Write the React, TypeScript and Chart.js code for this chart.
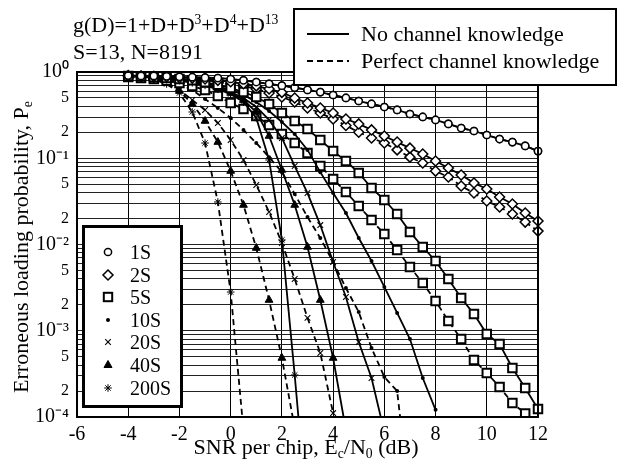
import React, { useEffect, useRef } from 'react';
import { Chart, registerables } from 'chart.js';

Chart.register(...registerables);

// ---------- SNR grids (dB) ----------
const SNR_TO_12 = [-4, -3.5, -3, -2.5, -2, -1.5, -1, -0.5, 0, 0.5, 1, 1.5, 2, 2.5, 3, 3.5, 4, 4.5, 5, 5.5, 6, 6.5, 7, 7.5, 8, 8.5, 9, 9.5, 10, 10.5, 11, 11.5, 12];
const SNR_TO_11_5 = [-4, -3.5, -3, -2.5, -2, -1.5, -1, -0.5, 0, 0.5, 1, 1.5, 2, 2.5, 3, 3.5, 4, 4.5, 5, 5.5, 6, 6.5, 7, 7.5, 8, 8.5, 9, 9.5, 10, 10.5, 11, 11.5];
const SNR_TO_8 = [-4, -3.5, -3, -2.5, -2, -1.5, -1, -0.5, 0, 0.5, 1, 1.5, 2, 2.5, 3, 3.5, 4, 4.5, 5, 5.5, 6, 6.5, 7, 7.5, 8];
const SNR_TO_7 = [-4, -3.5, -3, -2.5, -2, -1.5, -1, -0.5, 0, 0.5, 1, 1.5, 2, 2.5, 3, 3.5, 4, 4.5, 5, 5.5, 6, 6.5, 7];
const SNR_TO_6 = [-4, -3.5, -3, -2.5, -2, -1.5, -1, -0.5, 0, 0.5, 1, 1.5, 2, 2.5, 3, 3.5, 4, 4.5, 5, 5.5, 6];
const SNR_TO_4_5 = [-4, -3.5, -3, -2.5, -2, -1.5, -1, -0.5, 0, 0.5, 1, 1.5, 2, 2.5, 3, 3.5, 4, 4.5];
const SNR_TO_4 = [-4, -3.5, -3, -2.5, -2, -1.5, -1, -0.5, 0, 0.5, 1, 1.5, 2, 2.5, 3, 3.5, 4];
const SNR_TO_3 = [-4, -3.5, -3, -2.5, -2, -1.5, -1, -0.5, 0, 0.5, 1, 1.5, 2, 2.5, 3];
const SNR_TO_2_5 = [-4, -3.5, -3, -2.5, -2, -1.5, -1, -0.5, 0, 0.5, 1, 1.5, 2, 2.5];
const SNR_TO_0_5 = [-4, -3.5, -3, -2.5, -2, -1.5, -1, -0.5, 0, 0.5];

// ---------- Erroneous loading probability, no channel knowledge (solid) ----------
const PE_1S_NO = [0.91, 0.9, 0.9, 0.89, 0.88, 0.87, 0.86, 0.85, 0.83, 0.8, 0.765, 0.73, 0.695, 0.66, 0.62, 0.585, 0.541, 0.5, 0.461, 0.426, 0.393, 0.363, 0.326, 0.301, 0.278, 0.25, 0.224, 0.207, 0.186, 0.167, 0.154, 0.139, 0.121];
const PE_2S_NO = [0.91, 0.9, 0.89, 0.88, 0.86, 0.85, 0.83, 0.8, 0.77, 0.73, 0.69, 0.635, 0.58, 0.5, 0.437, 0.383, 0.335, 0.285, 0.25, 0.213, 0.181, 0.154, 0.131, 0.112, 0.093, 0.077, 0.064, 0.0516, 0.044, 0.0356, 0.0295, 0.0232, 0.0187];
const PE_5S_NO = [0.9, 0.89, 0.87, 0.85, 0.83, 0.8, 0.76, 0.71, 0.652, 0.586, 0.513, 0.426, 0.335, 0.27, 0.218, 0.163, 0.121, 0.093, 0.0675, 0.0452, 0.0328, 0.0226, 0.014, 0.00935, 0.00644, 0.00398, 0.0024, 0.00156, 0.000916, 0.000702, 0.00037, 0.000217, 0.000124];
const PE_10S_NO = [0.9, 0.89, 0.87, 0.85, 0.82, 0.78, 0.74, 0.68, 0.618, 0.541, 0.449, 0.353, 0.263, 0.191, 0.125, 0.069, 0.0395, 0.0232, 0.0119, 0.00644, 0.00322, 0.00161, 0.000802, 0.000283, 0.000121];
const PE_20S_NO = [0.9, 0.89, 0.87, 0.84, 0.81, 0.77, 0.72, 0.66, 0.586, 0.5, 0.393, 0.278, 0.172, 0.0813, 0.0395, 0.0168, 0.00627, 0.00246, 0.000741, 0.000283, 0.000067];
const PE_40S_NO = [0.9, 0.88, 0.86, 0.84, 0.8, 0.76, 0.71, 0.64, 0.571, 0.473, 0.344, 0.181, 0.0731, 0.0287, 0.00935, 0.00227, 0.000483, 0.0000706];
const PE_200S_NO = [0.9, 0.88, 0.86, 0.83, 0.8, 0.75, 0.7, 0.63, 0.556, 0.449, 0.293, 0.0955, 0.0113, 0.000307, 0.0000064];

// ---------- Perfect channel knowledge (dashed) ----------
const PE_1S_PCK = [0.91, 0.9, 0.9, 0.89, 0.88, 0.87, 0.86, 0.85, 0.83, 0.8, 0.765, 0.73, 0.695, 0.66, 0.62, 0.585, 0.541, 0.5, 0.461, 0.426, 0.393, 0.363, 0.326, 0.301, 0.278, 0.25, 0.224, 0.207, 0.186, 0.167, 0.154, 0.139, 0.121];
const PE_2S_PCK = [0.9, 0.89, 0.87, 0.86, 0.84, 0.82, 0.8, 0.77, 0.73, 0.69, 0.635, 0.57, 0.513, 0.449, 0.383, 0.335, 0.285, 0.24, 0.2, 0.172, 0.15, 0.125, 0.103, 0.088, 0.071, 0.0607, 0.0477, 0.0395, 0.0319, 0.0272, 0.0226, 0.0182, 0.0143];
const PE_5S_PCK = [0.875, 0.85, 0.83, 0.79, 0.746, 0.688, 0.618, 0.527, 0.437, 0.372, 0.309, 0.243, 0.191, 0.15, 0.115, 0.0813, 0.0574, 0.0406, 0.0279, 0.0192, 0.0132, 0.00863, 0.00548, 0.00358, 0.00221, 0.0013, 0.000802, 0.000458, 0.000324, 0.000223, 0.000145, 0.00011];
const PE_10S_PCK = [0.88, 0.86, 0.84, 0.8, 0.726, 0.618, 0.486, 0.383, 0.293, 0.213, 0.15, 0.103, 0.069, 0.0385, 0.0208, 0.0119, 0.00627, 0.00313, 0.00165, 0.000631, 0.000291, 0.0002, 0.00001];
const PE_20S_PCK = [0.88, 0.86, 0.83, 0.76, 0.618, 0.473, 0.363, 0.256, 0.163, 0.0955, 0.049, 0.0238, 0.0104, 0.00398, 0.00141, 0.000552, 0.000111];
const PE_40S_PCK = [0.88, 0.86, 0.83, 0.74, 0.602, 0.426, 0.27, 0.154, 0.0711, 0.0287, 0.0091, 0.00227, 0.000483, 0.0000745];
const PE_200S_PCK = [0.88, 0.85, 0.82, 0.726, 0.571, 0.344, 0.15, 0.0311, 0.00281, 0.0000706];

// ---------- labels ----------
const SERIES_LABELS = ['1S', '2S', '5S', '10S', '20S', '40S', '200S'];
const CASE_LABELS = ['No channel knowledge', 'Perfect channel knowledge'];
const X_TICK_STEP = 2;
const X_MIN = -6;
const X_MAX = 12;
const Y_DECADES = [-4, -3, -2, -1];
const Y_GRID_MANTISSAS = [1, 2, 3, 4, 5, 6, 7, 8, 9];
const Y_LABEL_MANTISSAS = [2, 5];

const NO_SERIES = [
  [SNR_TO_12, PE_1S_NO],
  [SNR_TO_12, PE_2S_NO],
  [SNR_TO_12, PE_5S_NO],
  [SNR_TO_8, PE_10S_NO],
  [SNR_TO_6, PE_20S_NO],
  [SNR_TO_4_5, PE_40S_NO],
  [SNR_TO_3, PE_200S_NO],
];
const PCK_SERIES = [
  [SNR_TO_12, PE_1S_PCK],
  [SNR_TO_12, PE_2S_PCK],
  [SNR_TO_11_5, PE_5S_PCK],
  [SNR_TO_7, PE_10S_PCK],
  [SNR_TO_4, PE_20S_PCK],
  [SNR_TO_2_5, PE_40S_PCK],
  [SNR_TO_0_5, PE_200S_PCK],
];

type Mk = { style: any; r: number; bg: string; bw: number };
const MARKS: Mk[] = [
  { style: 'circle', r: 3.6, bg: '#fff', bw: 1.5 },
  { style: 'rectRot', r: 5, bg: '#fff', bw: 1.5 },
  { style: 'rect', r: 6, bg: '#fff', bw: 2 },
  { style: 'circle', r: 2, bg: '#000', bw: 0 },
  { style: 'crossRot', r: 4, bg: '#000', bw: 1.1 },
  { style: 'triangle', r: 4.5, bg: '#000', bw: 1 },
  { style: 'star', r: 3.8, bg: '#000', bw: 1 },
];

const SERIF = "'Liberation Serif', 'Times New Roman', serif";
const SUP: Record<string, string> = { '0': '\u2070', '1': '\u00b9', '2': '\u00b2', '3': '\u00b3', '4': '\u2074', '-': '\u207b' };
const toSup = (n: number) => String(n).split('').map((c) => SUP[c] || c).join('');

function makeDataset(pair: any, i: number, dashed: boolean) {
  const [xs, ys] = pair;
  const m = MARKS[i];
  return {
    label: SERIES_LABELS[i] + ' ' + CASE_LABELS[dashed ? 1 : 0],
    data: xs.map((x: number, k: number) => ({ x, y: ys[k] })),
    borderColor: '#000',
    backgroundColor: '#000',
    borderWidth: 1.8,
    borderDash: dashed ? [6, 4] : [],
    tension: 0,
    pointStyle: m.style,
    pointRadius: (ctx: any) => (ctx.raw && ctx.raw.y < 1e-4 ? 0 : m.r),
    pointBackgroundColor: m.bg,
    pointBorderColor: '#000',
    pointBorderWidth: m.bw,
    pointHoverRadius: m.r,
    clip: { left: 10, right: 10, top: 10, bottom: 0 },
  };
}

const framePlugin = {
  id: 'frame',
  afterDatasetsDraw(chart: any) {
    const { ctx, chartArea } = chart;
    ctx.save();
    ctx.strokeStyle = '#000';
    ctx.lineWidth = 2;
    ctx.strokeRect(chartArea.left, chartArea.top, chartArea.right - chartArea.left, chartArea.bottom - chartArea.top);
    ctx.restore();
  },
};

function Marker({ i }: { i: number }) {
  const s = 14;
  const c = s / 2;
  let shape: any = null;
  if (i === 0) shape = <circle cx={c} cy={c} r={3.6} fill="#fff" stroke="#000" strokeWidth={1.5} />;
  if (i === 1) shape = <polygon points={`${c},${c - 5} ${c + 5},${c} ${c},${c + 5} ${c - 5},${c}`} fill="#fff" stroke="#000" strokeWidth={1.5} />;
  if (i === 2) shape = <rect x={c - 4.2} y={c - 4.2} width={8.4} height={8.4} fill="#fff" stroke="#000" strokeWidth={2} />;
  if (i === 3) shape = <circle cx={c} cy={c} r={2} fill="#000" />;
  if (i === 4)
    shape = (
      <g stroke="#000" strokeWidth={1.1}>
        <line x1={c - 2.8} y1={c - 2.8} x2={c + 2.8} y2={c + 2.8} />
        <line x1={c - 2.8} y1={c + 2.8} x2={c + 2.8} y2={c - 2.8} />
      </g>
    );
  if (i === 5) shape = <polygon points={`${c},${c - 4.5} ${c + 4},${c + 2.5} ${c - 4},${c + 2.5}`} fill="#000" stroke="#000" strokeWidth={1} />;
  if (i === 6)
    shape = (
      <g stroke="#000" strokeWidth={1}>
        <line x1={c} y1={c - 3.8} x2={c} y2={c + 3.8} />
        <line x1={c - 3.8} y1={c} x2={c + 3.8} y2={c} />
        <line x1={c - 2.7} y1={c - 2.7} x2={c + 2.7} y2={c + 2.7} />
        <line x1={c - 2.7} y1={c + 2.7} x2={c + 2.7} y2={c - 2.7} />
      </g>
    );
  return (
    <svg width={s} height={s} style={{ position: 'absolute', left: 108 - c, top: 0 }}>
      {shape}
    </svg>
  );
}

const supStyle: React.CSSProperties = { fontSize: '0.62em', position: 'relative', top: '-0.6em', verticalAlign: 'baseline' };
const subStyle: React.CSSProperties = { fontSize: '0.62em', position: 'relative', top: '0.3em', verticalAlign: 'baseline' };

export default function App() {
  const ref = useRef<HTMLCanvasElement>(null);

  useEffect(() => {
    const datasets: any[] = [];
    NO_SERIES.forEach((p, i) => datasets.push(makeDataset(p, i, false)));
    PCK_SERIES.forEach((p, i) => datasets.push(makeDataset(p, i, true)));

    const yTicks: number[] = [];
    Y_DECADES.forEach((e) => Y_GRID_MANTISSAS.forEach((m) => yTicks.push(m * Math.pow(10, e))));
    yTicks.push(1);

    const chart = new Chart(ref.current as HTMLCanvasElement, {
      type: 'line',
      data: { datasets },
      plugins: [framePlugin],
      options: {
        responsive: false,
        animation: false,
        events: [],
        layout: { padding: { left: 0, top: 72, right: 80, bottom: 0 } },
        plugins: { legend: { display: false }, title: { display: false }, tooltip: { enabled: false } },
        scales: {
          x: {
            type: 'linear',
            min: X_MIN,
            max: X_MAX,
            afterFit: (s: any) => {
              s.height = 53;
            },
            border: { display: false },
            grid: { color: '#000', lineWidth: 1, drawTicks: false },
            ticks: {
              stepSize: X_TICK_STEP,
              padding: 6,
              color: '#000',
              font: { family: SERIF, size: 20 },
              callback: (v: any) => String(v),
            },
          },
          y: {
            type: 'logarithmic',
            min: 1e-4,
            max: 1,
            afterFit: (s: any) => {
              s.width = 77;
            },
            afterBuildTicks: (s: any) => {
              s.ticks = yTicks.map((v) => ({ value: v }));
            },
            border: { display: false },
            grid: { color: '#222', lineWidth: 1, drawTicks: false },
            ticks: {
              autoSkip: false,
              padding: 8,
              color: '#000',
              font: (ctx: any) => {
                const v = ctx.tick ? ctx.tick.value : 1;
                const e = Math.floor(Math.log10(v) + 1e-9);
                const m = Math.round(v / Math.pow(10, e));
                return { family: SERIF, size: m === 1 ? 20 : 16 };
              },
              callback: (v: any) => {
                const val = Number(v);
                const e = Math.floor(Math.log10(val) + 1e-9);
                const m = Math.round(val / Math.pow(10, e));
                if (m === 1) return '10' + toSup(e);
                if (Y_LABEL_MANTISSAS.includes(m)) return String(m);
                return '';
              },
            },
          },
        },
      } as any,
    });
    return () => chart.destroy();
  }, []);

  const abs = (o: React.CSSProperties): React.CSSProperties => ({ position: 'absolute', whiteSpace: 'nowrap', ...o });

  return (
    <div style={{ position: 'fixed', left: 0, top: 0, width: 618, height: 470, background: '#fff', fontFamily: SERIF, color: '#000', overflow: 'hidden' }}>
      <canvas ref={ref} width={618} height={470} style={{ position: 'absolute', left: 0, top: 0, width: 618, height: 470 }} />

      {/* annotation */}
      <div style={abs({ left: 73, top: 13, fontSize: 22, lineHeight: '24px' })}>
        g(D)=1+D+D<span style={supStyle}>3</span>+D<span style={supStyle}>4</span>+D<span style={supStyle}>13</span>
      </div>
      <div style={abs({ left: 73, top: 40, fontSize: 22, lineHeight: '24px' })}>S=13, N=8191</div>

      {/* axis titles */}
      <div style={abs({ left: 106, top: 434, width: 400, textAlign: 'center', fontSize: 22, lineHeight: '26px' })}>
        SNR per chip, E<span style={subStyle}>c</span>/N<span style={subStyle}>0</span> (dB)
      </div>
      <div
        style={abs({
          left: 21 - 200,
          top: 247 - 13,
          width: 400,
          height: 26,
          textAlign: 'center',
          fontSize: 22,
          lineHeight: '26px',
          transform: 'rotate(-90deg)',
        })}
      >
        Erroneous loading probability, P<span style={subStyle}>e</span>
      </div>

      {/* top-right legend */}
      <div style={abs({ left: 293, top: 8, width: 320, height: 74, border: '2px solid #000', background: '#fff' })} />
      <svg width={50} height={70} style={{ position: 'absolute', left: 304, top: 14 }}>
        <line x1={3} y1={20} x2={45} y2={20} stroke="#000" strokeWidth={1.8} />
        <line x1={3} y1={47} x2={45} y2={47} stroke="#000" strokeWidth={1.8} strokeDasharray="6 4" />
      </svg>
      <div style={abs({ left: 361, top: 22, fontSize: 22, lineHeight: '24px' })}>{CASE_LABELS[0]}</div>
      <div style={abs({ left: 361, top: 49, fontSize: 22, lineHeight: '24px' })}>{CASE_LABELS[1]}</div>

      {/* bottom-left legend */}
      <div style={abs({ left: 82, top: 225, width: 95, height: 177, border: '3px solid #000', background: '#fff' })} />
      {SERIES_LABELS.map((lab, i) => (
        <div key={lab} style={abs({ left: 0, top: 252 + i * 22.6 - 12, width: 200, height: 24 })}>
          <div style={{ position: 'absolute', left: 0, top: 5, width: 200, height: 14 }}>
            <Marker i={i} />
          </div>
          <div style={abs({ left: 130, top: 0, fontSize: 20, lineHeight: '24px' })}>{lab}</div>
        </div>
      ))}
    </div>
  );
}
